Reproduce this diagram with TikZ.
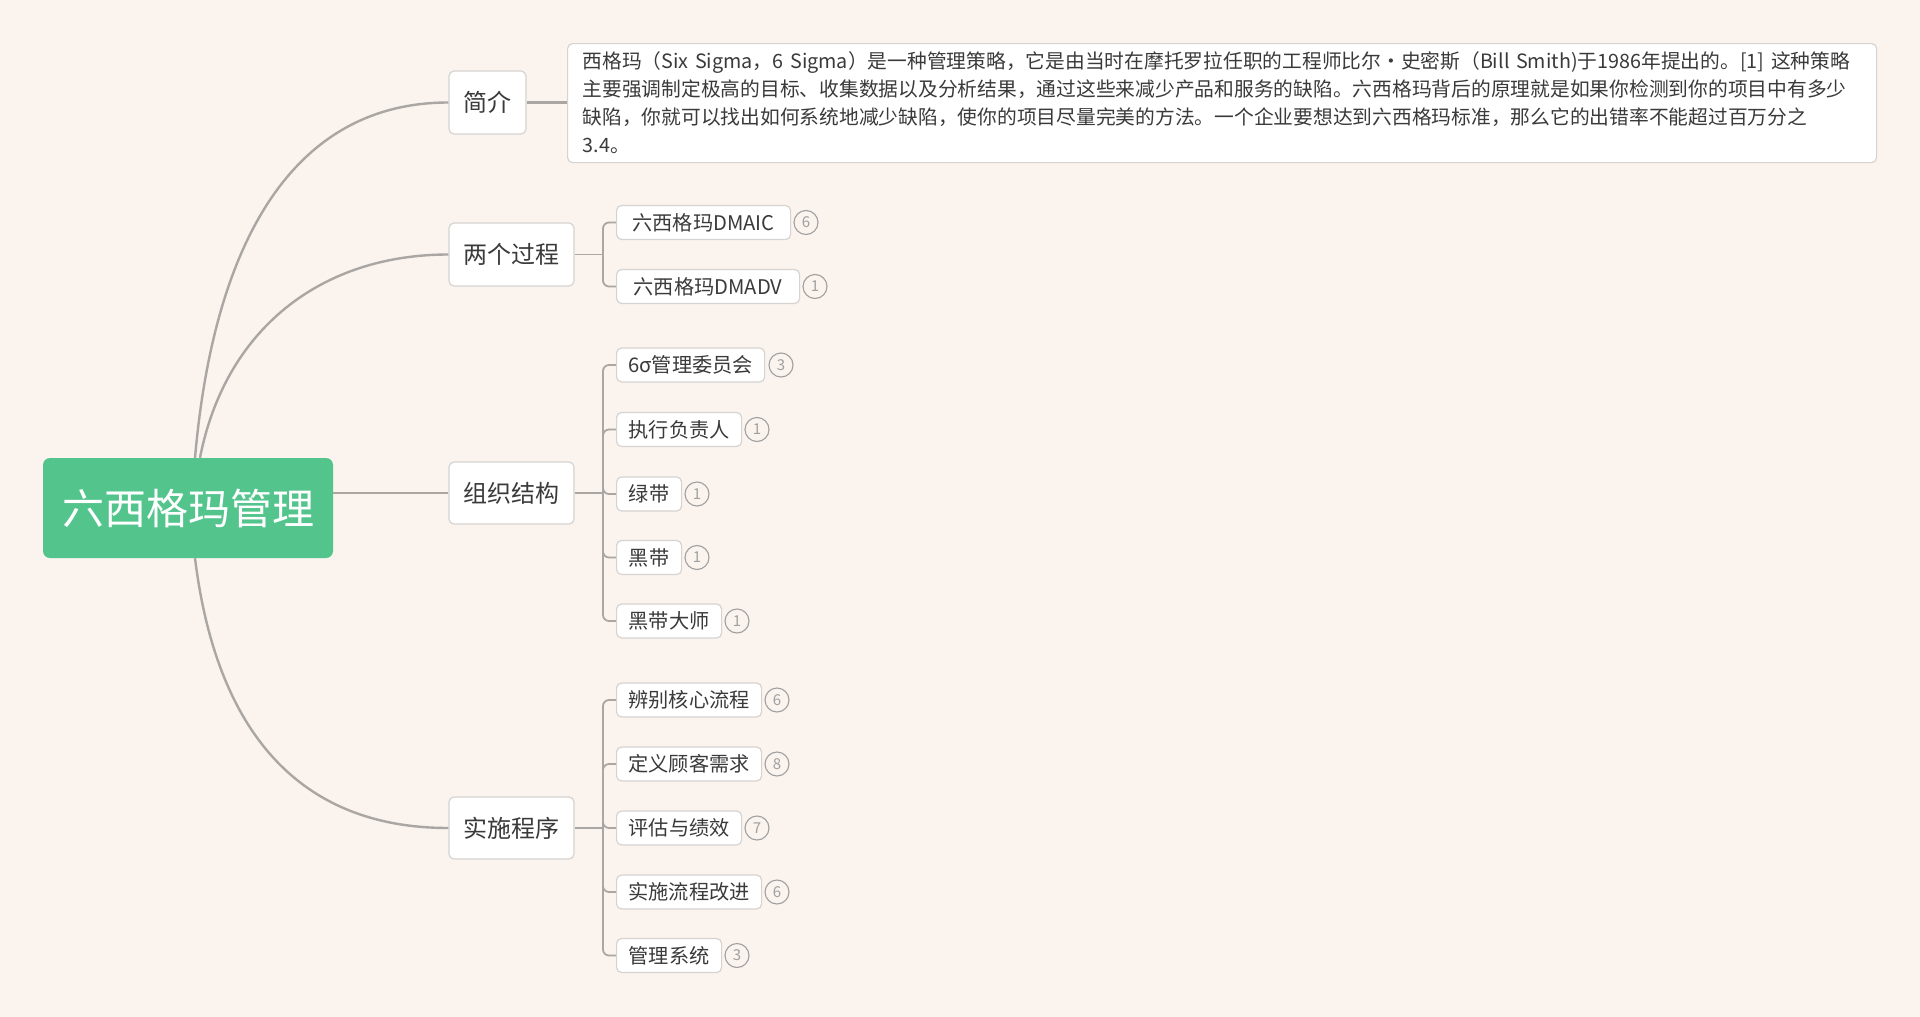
\documentclass[tikz,border=0pt]{standalone}
\usepackage{fontspec}
\setmainfont{Noto Sans CJK SC}
\definecolor{bg}{HTML}{FAF3EE}
\definecolor{rootgreen}{HTML}{52C48C}
\definecolor{linegray}{HTML}{A9A6A3}
\definecolor{boxborder}{HTML}{D6D3D0}
\definecolor{txt}{HTML}{3A3A3A}
\definecolor{badgegray}{HTML}{A0A0A0}
\begin{document}
\begin{tikzpicture}[x=1pt,y=-1pt,
 rootbox/.style={fill=rootgreen, rounded corners=7pt, text=white, font=\fontsize{42}{50}\selectfont, minimum width=290pt, minimum height=100pt, inner sep=0pt},
 branchbox/.style={draw=boxborder, fill=white, line width=1.2pt, rounded corners=5pt, text=txt, font=\fontsize{24}{28}\selectfont, minimum height=63pt, inner sep=0pt},
 leafbox/.style={draw=boxborder, fill=white, line width=1.2pt, rounded corners=5pt, text=txt, font=\fontsize{20.2}{24}\selectfont, minimum height=34pt, inner sep=0pt, anchor=west},
 badge/.style={circle, draw=badgegray, line width=1.1pt, minimum size=24pt, inner sep=0pt, text=badgegray, font=\fontsize{15}{17}\selectfont},
 mainline/.style={draw=linegray, line width=2.4pt},
 subline/.style={draw=linegray, line width=1.8pt, rounded corners=6pt},
]
\fill[bg] (0,0) rectangle (1920,1017);
\useasboundingbox (0,0) rectangle (1920,1017);

% root
\node[rootbox] (root) at (188,508) {六西格玛管理};

% branches
\node[branchbox, minimum width=77pt] (b1) at (487.5,102.5) {简介};
\node[branchbox, minimum width=125pt] (b2) at (511.5,254.5) {两个过程};
\node[branchbox, minimum width=125pt, minimum height=62pt] (b3) at (511.5,493) {组织结构};
\node[branchbox, minimum width=125pt, minimum height=62pt] (b4) at (511.5,828) {实施程序};

% description
\node[draw=boxborder, fill=white, line width=1.2pt, rounded corners=5pt, anchor=north west,
      minimum width=1309pt, minimum height=119pt, text width=1279pt, inner xsep=15pt, inner ysep=0pt,
      align=left, text=txt, font=\fontsize{19.75}{28}\selectfont] (desc) at (567,43)
 {\mbox{西格玛（Six Sigma，6 Sigma）是一种管理策略，它是由当时在摩托罗拉任职的工程师比尔•史密斯（Bill Smith)于1986年提出的。[1] 这种策略}\\
  主要强调制定极高的目标、收集数据以及分析结果，通过这些来减少产品和服务的缺陷。六西格玛背后的原理就是如果你检测到你的项目中有多少\\
  缺陷，你就可以找出如何系统地减少缺陷，使你的项目尽量完美的方法。一个企业要想达到六西格玛标准，那么它的出错率不能超过百万分之\\
  3.4。};

% leaves of b2
\node[leafbox, minimum width=174pt] (c21) at (616,222.5) {六西格玛DMAIC};
\node[badge] (k21) at (806,222.5) {6};
\node[leafbox, minimum width=183pt] (c22) at (616,286.5) {六西格玛DMADV};
\node[badge] (k22) at (815,286.5) {1};

% leaves of b3
\node[leafbox, minimum width=148pt] (c31) at (616,365) {6σ管理委员会};
\node[badge] (k31) at (781,365) {3};
\node[leafbox, minimum width=125pt] (c32) at (616,429.5) {执行负责人};
\node[badge] (k32) at (757,429.5) {1};
\node[leafbox, minimum width=65pt] (c33) at (616,494) {绿带};
\node[badge] (k33) at (697,494) {1};
\node[leafbox, minimum width=65pt] (c34) at (616,557.5) {黑带};
\node[badge] (k34) at (697,557.5) {1};
\node[leafbox, minimum width=105pt] (c35) at (616,621) {黑带大师};
\node[badge] (k35) at (737,621) {1};

% leaves of b4
\node[leafbox, minimum width=145pt] (c41) at (616,700) {辨别核心流程};
\node[badge] (k41) at (777,700) {6};
\node[leafbox, minimum width=145pt] (c42) at (616,764) {定义顾客需求};
\node[badge] (k42) at (777,764) {8};
\node[leafbox, minimum width=125pt] (c43) at (616,828) {评估与绩效};
\node[badge] (k43) at (757,828) {7};
\node[leafbox, minimum width=145pt] (c44) at (616,892) {实施流程改进};
\node[badge] (k44) at (777,892) {6};
\node[leafbox, minimum width=105pt] (c45) at (616,955.5) {管理系统};
\node[badge] (k45) at (737,955.5) {3};

% main connectors
\draw[mainline] ([xshift=7pt]root.north) .. controls (215,230) and (300,102.5) .. (b1.west);
\draw[mainline] ([xshift=12pt]root.north) .. controls (225,330) and (320,254.5) .. (b2.west);
\draw[mainline] (b3.west -| root.east) -- (b3.west);
\draw[mainline] ([xshift=7pt]root.south) .. controls (215,720) and (290,828) .. (b4.west);
\draw[mainline] (b1.east) -- (desc.west |- b1.east);

% junctions
\coordinate (j2) at (603,254.5);
\coordinate (j3) at (603,493);
\coordinate (j4) at (603,828);
\draw[subline] (b2.east) -- (j2);
\draw[subline] (b3.east) -- (j3);
\draw[subline] (b4.east) -- (j4);
\foreach \c in {c21,c22} \draw[subline] (j2) |- (\c.west);
\foreach \c in {c31,c32,c33,c34,c35} \draw[subline] (j3) |- (\c.west);
\foreach \c in {c41,c42,c43,c44,c45} \draw[subline] (j4) |- (\c.west);
\end{tikzpicture}
\end{document}
